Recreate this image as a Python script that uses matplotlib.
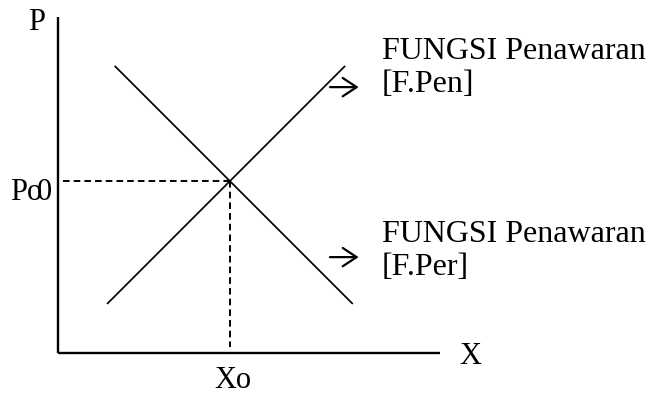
import matplotlib.pyplot as plt

plt.rcParams['font.family'] = ['Liberation Serif', 'DejaVu Serif']

# garis permintaan dan penawaran (satuan bebas, titik asal di pojok sumbu)
pen_x = [1.3, 7.5]
pen_y = [1.3, 7.5]
per_x = [1.5, 7.7]
per_y = [7.5, 1.3]
eq_x = 4.5
eq_y = 4.5
label_atas = ['FUNGSI Penawaran', '[F.Pen]']
label_bawah = ['FUNGSI Penawaran', '[F.Per]']

px = 38.2  # piksel per satuan
fig = plt.figure(figsize=(6.47, 3.94), dpi=100)
ax = fig.add_axes([0, 0, 1, 1])
ax.set_xlim(-58 / px, (647 - 58) / px)
ax.set_ylim(-(394 - 353) / px, 353 / px)
ax.axis('off')

fs = 22
# sumbu
ax.plot([0, 0], [0, 8.8], color='black', lw=1.7, solid_capstyle='butt')
ax.plot([0, 10], [0, 0], color='black', lw=1.7, solid_capstyle='butt')

ax.plot(pen_x, pen_y, color='black', lw=1.25)
ax.plot(per_x, per_y, color='black', lw=1.25)

ax.plot([0.12, eq_x], [eq_y, eq_y], color='black', lw=1.4, ls=(0, (3.4, 2.1)))
ax.plot([eq_x, eq_x], [eq_y, 0.15], color='black', lw=1.4, ls=(0, (3.4, 2.1)))

for yy in [6.96, 2.51]:
    ax.annotate('', xy=(7.87, yy), xytext=(7.12, yy),
                arrowprops=dict(arrowstyle='->,head_length=0.5,head_width=0.33',
                                color='black', lw=1.6, mutation_scale=20,
                                shrinkA=0, shrinkB=0))

ax.text(8.48, 7.88, label_atas[0], fontsize=23, va='center', ha='left')
ax.text(8.48, 7.02, label_atas[1], fontsize=23, va='center', ha='left')
ax.text(8.48, 3.09, label_bawah[0], fontsize=23, va='center', ha='left')
ax.text(8.48, 2.23, label_bawah[1], fontsize=23, va='center', ha='left')

ax.text(-0.55, 8.66, 'P', fontsize=fs, va='center', ha='center')
ax.text(10.8, -0.1, 'X', fontsize=fs, va='center', ha='center')
ax.text(eq_x + 0.08, -0.71, 'Xo', fontsize=fs, va='center', ha='center')
ax.text(-1.25, 4.21, 'Po', fontsize=fs, va='center', ha='left')
ax.text(-0.16, 4.21, '0', fontsize=fs, va='center', ha='right')

fig.savefig('out.png', dpi=100)
